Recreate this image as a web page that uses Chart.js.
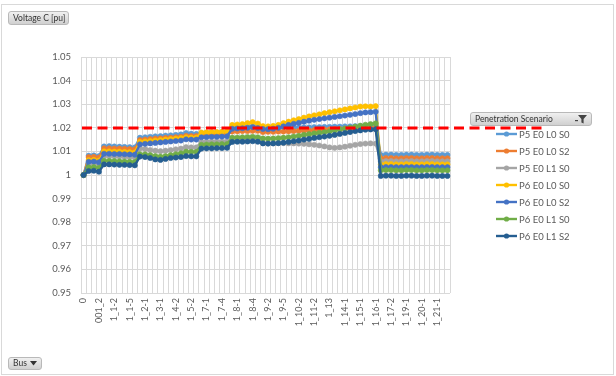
<!DOCTYPE html>
<html>
<head>
<meta charset="utf-8">
<script src="https://cdn.jsdelivr.net/npm/chart.js@4.4.1/dist/chart.umd.min.js"></script>
<style>
  html, body { margin: 0; padding: 0; background: #fff; }
  #wrap { position: relative; width: 616px; height: 376px; overflow: hidden; font-family: Lato, "Liberation Sans", sans-serif; }
  #frame { position: absolute; left: 1px; top: 4px; width: 613px; height: 371px; border: 1px solid #D9D9D9; box-sizing: border-box; }
  canvas { position: absolute; left: 0; top: 0; }
  .btn { position: absolute; height: 14px; border: 1px solid #B9B9B9; border-radius: 3px;
         background: linear-gradient(#F0F0F0, #D0D0D0); font-size: 8.5px; line-height: 12px;
         color: #333; padding: 0 4px; box-sizing: border-box; white-space: nowrap; }
  .btn svg { position: absolute; top: 2px; }
</style>
</head>
<body>
<div id="wrap">
  <div id="frame"></div>
  <canvas id="chart" width="616" height="376"></canvas>
  <div class="btn" style="left:8px;top:11px;width:61px;">Voltage C [pu]</div>
  <div class="btn" style="left:470px;top:112px;width:122px;">Penetration Scenario
    <svg style="right:4px;" width="12" height="9" viewBox="0 0 12 9">
      <rect x="0" y="5" width="3" height="1.2" fill="#444"/>
      <path d="M3 0 H12 L8.6 4 V8.5 L6.4 7.4 V4 Z" fill="#444"/>
    </svg>
  </div>
  <div class="btn" style="left:8px;top:357px;width:34px;height:13px;line-height:11px;">Bus
    <svg style="right:4px;top:3px;" width="7" height="5" viewBox="0 0 7 5"><path d="M0 0 H7 L3.5 4.5 Z" fill="#333"/></svg>
  </div>
</div>
<script>
// Buses along the feeder (every third name is printed on the axis)
const busNames = [
  "0", "001", "001_1", "001_2", "1_1", "1_1-1", "1_1-2", "1_1-3", "1_1-4", "1_1-5",
  "1_1-6", "1_2", "1_2-1", "1_2-2", "1_3", "1_3-1", "1_3-2", "1_4", "1_4-2", "1_4-3",
  "1_5", "1_5-2", "1_5-3", "1_6", "1_7-1", "1_7-2", "1_7-3", "1_7-4", "1_7-5", "1_8",
  "1_8-1", "1_8-2", "1_8-3", "1_8-4", "1_8-5", "1_9", "1_9-2", "1_9-3", "1_9-4", "1_9-5",
  "1_10", "1_10-1", "1_10-2", "1_10-3", "1_11", "1_11-2", "1_11-3", "1_12", "1_13", "1_13-1",
  "1_14", "1_14-1", "1_14-2", "1_15", "1_15-1", "1_15-2", "1_16", "1_16-1", "1_16-2", "1_17",
  "1_17-2", "1_18", "1_19", "1_19-1", "1_19-2", "1_20", "1_20-1", "1_20-2", "1_21", "1_21-1",
  "1_21-2", "1_22"
];
const labelEvery = 3;

const scenarioNames = ["P5 E0 L0 S0", "P5 E0 L0 S2", "P5 E0 L1 S0", "P6 E0 L0 S0", "P6 E0 L0 S2", "P6 E0 L1 S0", "P6 E0 L1 S2"];

// Phase C voltage per bus [pu]
const p5e0l0s0 = [1.0000,
  1.0082, 1.0083, 1.0080,
  1.0121, 1.0122, 1.0121, 1.0120, 1.0119, 1.0118, 1.0117,
  1.0158, 1.0160, 1.0162, 1.0164, 1.0165, 1.0167, 1.0168, 1.0170, 1.0172, 1.0178, 1.0175, 1.0174,
  1.0178, 1.0179, 1.0180, 1.0180, 1.0181, 1.0181,
  1.0203, 1.0204, 1.0205, 1.0206, 1.0206, 1.0207,
  1.0200, 1.0201, 1.0201, 1.0202, 1.0202,
  1.0200, 1.0201, 1.0201, 1.0202, 1.0202, 1.0203, 1.0203, 1.0204, 1.0204, 1.0205, 1.0205, 1.0206, 1.0206, 1.0207, 1.0207, 1.0208, 1.0208, 1.0208,
  1.0085, 1.0086, 1.0086, 1.0085, 1.0085, 1.0086, 1.0086, 1.0085, 1.0085, 1.0086, 1.0086, 1.0085, 1.0085, 1.0085];
const p5e0l0s2 = [1.0000,
  1.0076, 1.0077, 1.0074,
  1.0113, 1.0113, 1.0112, 1.0112, 1.0111, 1.0110, 1.0109,
  1.0148, 1.0150, 1.0152, 1.0154, 1.0155, 1.0157, 1.0158, 1.0160, 1.0162, 1.0166, 1.0165, 1.0165,
  1.0170, 1.0171, 1.0172, 1.0172, 1.0173, 1.0173,
  1.0184, 1.0185, 1.0186, 1.0186, 1.0187, 1.0187,
  1.0182, 1.0183, 1.0183, 1.0184, 1.0184,
  1.0185, 1.0186, 1.0187, 1.0188, 1.0189, 1.0190, 1.0191, 1.0192, 1.0193, 1.0194, 1.0195, 1.0196, 1.0197, 1.0198, 1.0198, 1.0199, 1.0199, 1.0200,
  1.0071, 1.0072, 1.0072, 1.0071, 1.0071, 1.0072, 1.0072, 1.0071, 1.0071, 1.0072, 1.0072, 1.0071, 1.0071, 1.0071];
const p5e0l1s0 = [1.0000,
  1.0047, 1.0048, 1.0045,
  1.0080, 1.0080, 1.0079, 1.0078, 1.0077, 1.0076, 1.0075,
  1.0112, 1.0110, 1.0106, 1.0103, 1.0101, 1.0103, 1.0106, 1.0109, 1.0112, 1.0118, 1.0117, 1.0117,
  1.0140, 1.0141, 1.0141, 1.0142, 1.0142, 1.0143,
  1.0150, 1.0151, 1.0152, 1.0152, 1.0153, 1.0151,
  1.0135, 1.0134, 1.0134, 1.0135, 1.0135,
  1.0134, 1.0134, 1.0133, 1.0132, 1.0130, 1.0128, 1.0125, 1.0121, 1.0117, 1.0115, 1.0117, 1.0120, 1.0124, 1.0128, 1.0131, 1.0133, 1.0134, 1.0133,
  1.0058, 1.0059, 1.0059, 1.0058, 1.0058, 1.0059, 1.0059, 1.0058, 1.0058, 1.0059, 1.0059, 1.0058, 1.0058, 1.0058];
const p6e0l0s0 = [1.0000,
  1.0063, 1.0064, 1.0061,
  1.0100, 1.0100, 1.0099, 1.0099, 1.0098, 1.0097, 1.0096,
  1.0140, 1.0142, 1.0144, 1.0146, 1.0148, 1.0150, 1.0152, 1.0154, 1.0156, 1.0160, 1.0158, 1.0158,
  1.0180, 1.0181, 1.0182, 1.0182, 1.0183, 1.0184,
  1.0212, 1.0214, 1.0216, 1.0220, 1.0224, 1.0218,
  1.0207, 1.0206, 1.0208, 1.0212, 1.0220,
  1.0226, 1.0232, 1.0237, 1.0243, 1.0248, 1.0253, 1.0257, 1.0262, 1.0266, 1.0270, 1.0274, 1.0278, 1.0282, 1.0286, 1.0290, 1.0291, 1.0290, 1.0292,
  1.0045, 1.0046, 1.0046, 1.0045, 1.0045, 1.0046, 1.0046, 1.0045, 1.0045, 1.0046, 1.0046, 1.0045, 1.0045, 1.0045];
const p6e0l0s2 = [1.0000,
  1.0056, 1.0057, 1.0054,
  1.0090, 1.0090, 1.0089, 1.0089, 1.0088, 1.0087, 1.0086,
  1.0130, 1.0132, 1.0134, 1.0136, 1.0138, 1.0140, 1.0142, 1.0144, 1.0146, 1.0151, 1.0150, 1.0150,
  1.0160, 1.0161, 1.0162, 1.0162, 1.0163, 1.0164,
  1.0196, 1.0197, 1.0198, 1.0200, 1.0203, 1.0199,
  1.0195, 1.0194, 1.0196, 1.0200, 1.0206,
  1.0212, 1.0217, 1.0221, 1.0226, 1.0230, 1.0234, 1.0237, 1.0240, 1.0243, 1.0246, 1.0249, 1.0252, 1.0255, 1.0258, 1.0262, 1.0265, 1.0266, 1.0268,
  1.0033, 1.0034, 1.0034, 1.0033, 1.0033, 1.0034, 1.0034, 1.0033, 1.0033, 1.0034, 1.0034, 1.0033, 1.0033, 1.0033];
const p6e0l1s0 = [1.0000,
  1.0032, 1.0033, 1.0030,
  1.0060, 1.0060, 1.0059, 1.0058, 1.0057, 1.0056, 1.0055,
  1.0088, 1.0087, 1.0084, 1.0080, 1.0078, 1.0080, 1.0084, 1.0088, 1.0092, 1.0099, 1.0098, 1.0098,
  1.0128, 1.0129, 1.0130, 1.0130, 1.0131, 1.0131,
  1.0158, 1.0159, 1.0160, 1.0161, 1.0162, 1.0160,
  1.0155, 1.0154, 1.0155, 1.0156, 1.0158,
  1.0160, 1.0163, 1.0166, 1.0170, 1.0173, 1.0176, 1.0179, 1.0182, 1.0185, 1.0189, 1.0193, 1.0197, 1.0201, 1.0205, 1.0209, 1.0213, 1.0216, 1.0219,
  1.0020, 1.0021, 1.0021, 1.0020, 1.0020, 1.0021, 1.0021, 1.0020, 1.0020, 1.0021, 1.0021, 1.0020, 1.0020, 1.0020];
const p6e0l1s2 = [1.0000,
  1.0017, 1.0018, 1.0014,
  1.0045, 1.0045, 1.0044, 1.0043, 1.0043, 1.0042, 1.0041,
  1.0078, 1.0076, 1.0072, 1.0066, 1.0064, 1.0068, 1.0072, 1.0074, 1.0076, 1.0080, 1.0079, 1.0079,
  1.0112, 1.0113, 1.0113, 1.0114, 1.0114, 1.0115,
  1.0140, 1.0141, 1.0141, 1.0142, 1.0143, 1.0141,
  1.0134, 1.0133, 1.0134, 1.0135, 1.0137,
  1.0140, 1.0143, 1.0146, 1.0150, 1.0153, 1.0157, 1.0160, 1.0163, 1.0166, 1.0170, 1.0174, 1.0178, 1.0182, 1.0186, 1.0189, 1.0192, 1.0193, 1.0194,
  0.9996, 0.9997, 0.9997, 0.9996, 0.9996, 0.9997, 0.9997, 0.9996, 0.9996, 0.9997, 0.9997, 0.9996, 0.9996, 0.9996];

const scenarioValues = [p5e0l0s0, p5e0l0s2, p5e0l1s0, p6e0l0s0, p6e0l0s2, p6e0l1s0, p6e0l1s2];
const scenarioColors = ["#5B9BD5", "#ED7D31", "#A5A5A5", "#FFC000", "#4472C4", "#70AD47", "#255E91"];

// Voltage axis range and the upper voltage limit
const yMin = 0.95, yMax = 1.05, yStep = 0.01;
const upperLimit = 1.02;

const FONT = "Lato, 'Liberation Sans', sans-serif";

// Red dashed limit line, running past the plot into the key area
const limitLine = {
  id: 'limitLine',
  afterDatasetsDraw(chart) {
    const { ctx, chartArea, scales } = chart;
    const y = Math.round(scales.y.getPixelForValue(upperLimit));
    ctx.save();
    ctx.strokeStyle = '#FF0000';
    ctx.lineWidth = 3;
    ctx.setLineDash([10, 5.5]);
    ctx.beginPath();
    ctx.moveTo(chartArea.left + 1, y);
    ctx.lineTo(chartArea.right + 93, y);
    ctx.stroke();
    ctx.restore();
  }
};

// Scenario key at the right
const scenarioKey = {
  id: 'scenarioKey',
  afterDraw(chart) {
    const ctx = chart.ctx;
    ctx.save();
    chart.data.datasets.forEach((ds, i) => {
      const y = 134 + i * 17;
      ctx.strokeStyle = ds.borderColor;
      ctx.lineWidth = 2.4;
      ctx.beginPath();
      ctx.moveTo(496, y);
      ctx.lineTo(517, y);
      ctx.stroke();
      ctx.fillStyle = ds.borderColor;
      ctx.beginPath();
      ctx.arc(506.5, y, 2.6, 0, Math.PI * 2);
      ctx.fill();
      ctx.fillStyle = '#595959';
      ctx.font = '9.5px ' + FONT;
      ctx.textBaseline = 'middle';
      ctx.textAlign = 'left';
      ctx.fillText(ds.label, 519, y + 0.5);
    });
    ctx.restore();
  }
};

const datasets = scenarioNames.map((name, i) => ({
  label: name,
  data: scenarioValues[i],
  borderColor: scenarioColors[i],
  backgroundColor: scenarioColors[i],
  pointBackgroundColor: scenarioColors[i],
  pointBorderColor: scenarioColors[i],
  borderWidth: 2.4,
  pointRadius: 2.6,
  pointBorderWidth: 0.6,
  tension: 0,
  order: scenarioNames.length - 1 - i
}));

new Chart(document.getElementById('chart'), {
  type: 'line',
  data: { labels: busNames, datasets },
  plugins: [limitLine, scenarioKey],
  options: {
    responsive: false,
    animation: false,
    devicePixelRatio: 1,
    layout: { padding: { left: 0, right: 166, top: 57, bottom: 33 } },
    plugins: { legend: { display: false }, tooltip: { enabled: false } },
    scales: {
      x: {
        offset: true,
        grid: { offset: true, color: '#D9D9D9', lineWidth: 1, drawTicks: false },
        border: { display: false },
        ticks: {
          autoSkip: false, minRotation: 90, maxRotation: 90, padding: 5,
          color: '#595959', font: { family: FONT, size: 9 },
          callback: (v, i) => (i % labelEvery === 0 ? busNames[i] : '')
        },
        afterFit: s => { s.height = 50; }
      },
      y: {
        min: yMin, max: yMax,
        grid: { color: '#D9D9D9', lineWidth: 1, drawTicks: false },
        border: { display: false },
        ticks: {
          stepSize: yStep, padding: 10, color: '#595959', font: { family: FONT, size: 9.5 },
          callback: v => String(parseFloat(Number(v).toFixed(2)))
        },
        afterFit: s => { s.width = 81; }
      }
    }
  }
});
</script>
</body>
</html>
